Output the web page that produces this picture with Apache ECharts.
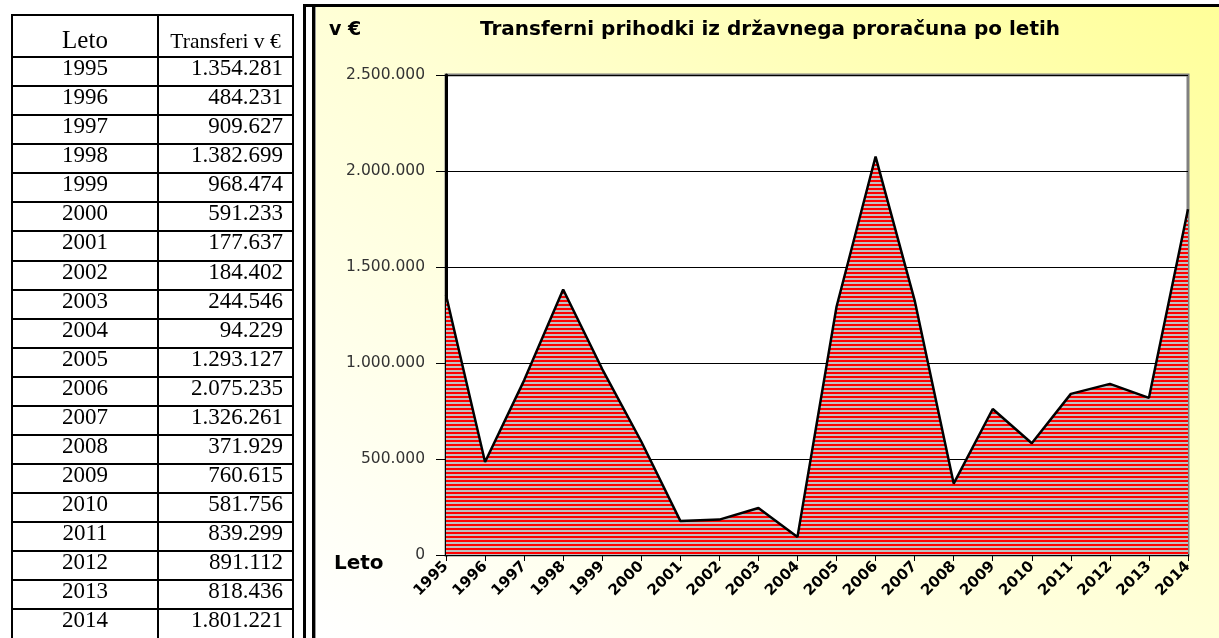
<!DOCTYPE html>
<html>
<head>
<meta charset="utf-8">
<script src="https://cdn.jsdelivr.net/npm/echarts@6/dist/echarts.min.js"></script>
<style>
html, body { margin: 0; padding: 0; background: #fff; overflow: hidden; }
#frame { position: absolute; left: 0; top: 0; width: 1219px; height: 638px; }
#bg { position: absolute; left: 316px; top: 7px; right: 0; bottom: 0;
      background: linear-gradient(to bottom left, #ffff99 0%, #ffffd6 50%, #ffffff 100%); }
.ln { position: absolute; background: #000; }
#main { position: absolute; left: 0; top: 0; width: 1219px; height: 638px; }
#tbl { position: absolute; left: 0; top: 0; width: 300px; height: 638px;
       font-family: "Liberation Serif", serif; color: #000; }
.cell { position: absolute; white-space: nowrap; }
</style>
</head>
<body>
<div id="frame">
	<div id="bg"></div>
	<div class="ln" style="left:303px;top:4px;width:916px;height:3px"></div>
	<div class="ln" style="left:303px;top:4px;width:3px;height:634px"></div>
	<div class="ln" style="left:312px;top:7px;width:3px;height:631px"></div>
	<div class="ln" style="left:315px;top:7px;width:1px;height:631px;background:#999"></div>
</div>
<div id="main"></div>
<div id="tbl"></div>
<script>
var years = ['1995', '1996', '1997', '1998', '1999', '2000', '2001', '2002', '2003', '2004',
	'2005', '2006', '2007', '2008', '2009', '2010', '2011', '2012', '2013', '2014'];
var transfers = [1354281, 484231, 909627, 1382699, 968474, 591233, 177637, 184402, 244546, 94229,
	1293127, 2075235, 1326261, 371929, 760615, 581756, 839299, 891112, 818436, 1801221];
var yMax = 2500000;
var yStep = 500000;

function fmt(v) {
	return String(v).replace(/\B(?=(\d{3})+(?!\d))/g, '.');
}

// tabela na levi
(function() {
	var t = document.getElementById('tbl');
	var html = '';
	var top = 14, rowH = 29.07;
	html += '<div class="ln" style="left:11px;top:' + top + 'px;width:283px;height:2px"></div>';
	html += '<div class="ln" style="left:11px;top:' + top + 'px;width:2px;height:700px"></div>';
	html += '<div class="ln" style="left:292px;top:' + top + 'px;width:2px;height:700px"></div>';
	html += '<div class="ln" style="left:157px;top:' + top + 'px;width:2px;height:700px"></div>';
	html += '<div class="cell" style="left:13px;width:144px;top:25px;line-height:30px;text-align:center;font-size:25px">Leto</div>';
	html += '<div class="cell" style="left:159px;width:133px;top:26px;line-height:30px;text-align:center;font-size:21.5px">Transferi v €</div>';
	for (var i = 0; i < years.length; i++) {
		var y = 56 + i * rowH;
		html += '<div class="ln" style="left:11px;top:' + y.toFixed(1) + 'px;width:283px;height:2px"></div>';
		html += '<div class="cell" style="left:13px;width:144px;top:' + (y + 1).toFixed(1) + 'px;line-height:21px;text-align:center;font-size:23px">' + years[i] + '</div>';
		html += '<div class="cell" style="left:159px;width:124px;top:' + (y + 1).toFixed(1) + 'px;line-height:21px;text-align:right;font-size:23px">' + fmt(transfers[i]) + '</div>';
	}
	t.innerHTML = html;
})();

var mychart = echarts.init(document.getElementById('main'));

var pat = document.createElement('canvas');
pat.width = 4;
pat.height = 4;
var pc = pat.getContext('2d');
pc.fillStyle = '#c0c0c0';
pc.fillRect(0, 0, 4, 4);
pc.fillStyle = '#ff0000';
pc.fillRect(0, 0, 4, 2);

var option = {
	backgroundColor : 'transparent',
	animation : false,
	grid : {
		left : 446,
		top : 75,
		width : 742,
		height : 480,
		show : true,
		backgroundColor : '#ffffff',
		borderColor : '#808080',
		borderWidth : 3
	},
	xAxis : {
		type : 'category',
		data : years,
		boundaryGap : false,
		axisLine : { lineStyle : { color : '#000', width : 2 } },
		axisTick : { show : true, length : 6, interval : 0, lineStyle : { color : '#000' } },
		axisLabel : {
			interval : 0,
			rotate : 45,
			margin : 9,
			color : '#000',
			fontFamily : 'DejaVu Sans',
			fontWeight : 'bold',
			fontSize : 15
		},
		splitLine : { show : false }
	},
	yAxis : {
		type : 'value',
		min : 0,
		max : yMax,
		interval : yStep,
		axisLine : { show : true, lineStyle : { color : '#000', width : 3 } },
		axisTick : { show : true, length : 10, lineStyle : { color : '#000' } },
		axisLabel : {
			margin : 21,
			color : '#333',
			fontFamily : 'DejaVu Sans',
			fontSize : 15.5,
			formatter : function(v) { return fmt(v); }
		},
		splitLine : { show : true, lineStyle : { color : '#000', width : 1 } }
	},
	graphic : [ {
		type : 'text',
		style : { text : 'v €', x : 329, y : 30, verticalAlign : 'middle',
			font : 'bold 19px "DejaVu Sans"', fill : '#000' }
	}, {
		type : 'text',
		style : { text : 'Transferni prihodki iz državnega proračuna po letih', x : 770, y : 30,
			align : 'center', verticalAlign : 'middle',
			font : 'bold 20px "DejaVu Sans"', fill : '#000' }
	}, {
		type : 'text',
		style : { text : 'Leto', x : 334, y : 564, verticalAlign : 'middle',
			font : 'bold 20px "DejaVu Sans"', fill : '#000' }
	} ],
	series : [ {
		type : 'line',
		data : transfers,
		symbol : 'none',
		lineStyle : { color : '#000', width : 2.5 },
		areaStyle : { color : { image : pat, repeat : 'repeat' }, opacity : 1 }
	} ]
};
mychart.setOption(option);
</script>
</body>
</html>
